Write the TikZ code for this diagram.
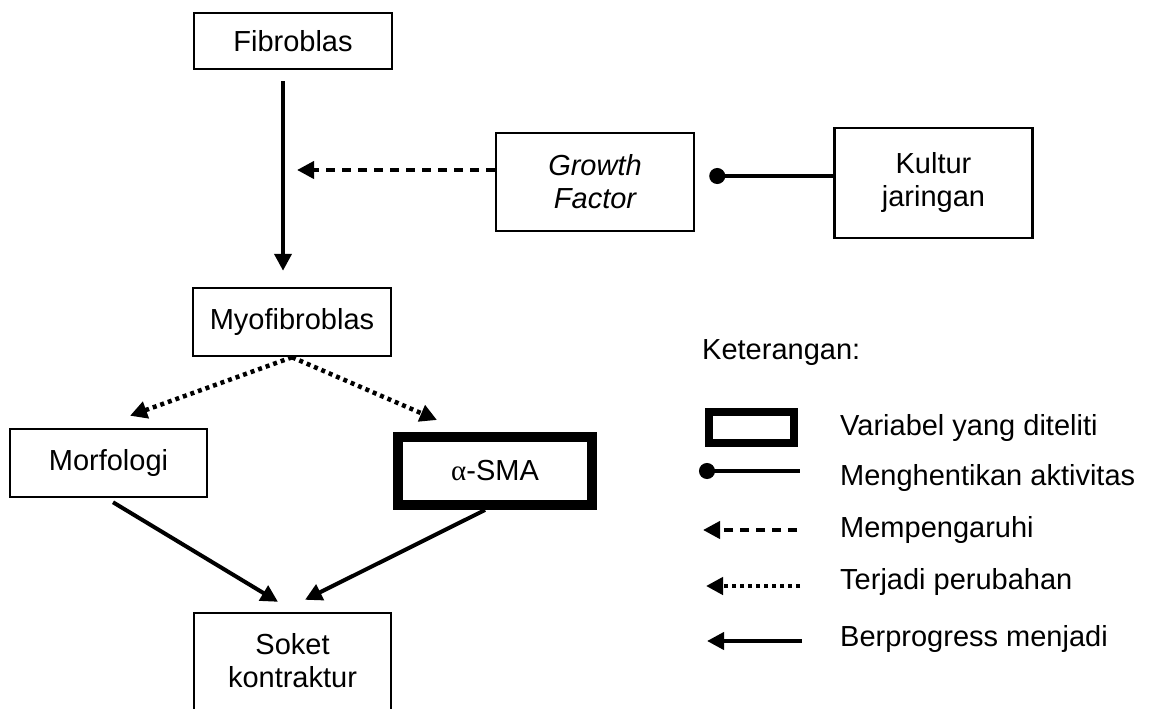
\documentclass[tikz,border=0pt]{standalone}
\usepackage{fontspec}
\setmainfont{Liberation Sans}
\newfontfamily\greekserif{Liberation Serif}
\usetikzlibrary{arrows.meta}
\begin{document}
\begin{tikzpicture}[x=1pt,y=-1pt,
  font=\fontsize{29pt}{33pt}\selectfont,
  box/.style={draw, line width=2.5pt, minimum width=198pt, align=center, inner sep=0pt},
  thickbox/.style={draw, line width=10pt, inner sep=0pt},
  tip/.style={-{Triangle[length=17pt,width=17pt]}},
  solidarrow/.style={line width=4pt, tip},
  dashedarrow/.style={line width=4pt, dash pattern=on 9pt off 7pt, tip},
  dottedarrow/.style={line width=4.5pt, dash pattern=on 4pt off 4pt, tip},
  blocker/.style={line width=4.5pt, {Circle[length=16pt]}-},
  legtext/.style={anchor=west, inner sep=0pt}
]
\useasboundingbox (0,0) rectangle (1154,709);

% main nodes
\node[box, minimum height=56pt] (fib) at (293,41) {Fibroblas};
\node[box, minimum height=68pt] (myo) at (292,322) {Myofibroblas};
\node[box, minimum height=98pt] (gf) at (595,182) {\itshape Growth\\\itshape Factor};
\node[box, minimum height=110pt] (kj) at (933.5,183) {Kultur\\jaringan};
\node[box, minimum height=68pt, minimum width=197pt] (morf) at (108.5,463) {Morfologi};
\node[thickbox, minimum width=194pt, minimum height=68pt] (sma) at (495,471) {{\greekserif α}-SMA};
\node[align=center, inner sep=0pt, minimum width=197pt, minimum height=96pt] (sok) at (292.5,661) {Soket\\kontraktur};
\draw[line width=2.5pt] ([yshift=-30pt]sok.south west) -- (sok.north west) -- (sok.north east) -- ([yshift=-30pt]sok.south east);

% connectors
\draw[solidarrow, shorten <=11pt, shorten >=16pt] ([xshift=-10pt]fib.south) -- ([xshift=-9pt]myo.north);
\coordinate (gftip) at (297,170);
\draw[dashedarrow] ([yshift=12pt]gf.west) -- (gftip);
\draw[blocker, shorten <=14pt] ([yshift=7pt]kj.west -| gf.east) -- ([yshift=7pt]kj.west);
\draw[dottedarrow] (myo.south) -- ([xshift=21.5pt,yshift=12pt]morf.north);
\draw[dottedarrow] (myo.south) -- ([xshift=-58pt,yshift=12pt]sma.north);
\draw[solidarrow] ([xshift=4.5pt,yshift=-4pt]morf.south) -- ([xshift=-14.5pt,yshift=11pt]sok.north);
\draw[solidarrow] ([xshift=-10pt]sma.south) -- ([xshift=12.5pt,yshift=13pt]sok.north);

% legend
\node[legtext] (ket) at (702,353) {Keterangan:};
\node[draw, line width=8pt, inner sep=0pt, minimum width=85pt, minimum height=31pt] (legbox) at (751.5,427.5) {};
\node[legtext] (t1) at (840,428) {Variabel yang diteliti};
\node[legtext] (t2) at (840,478) {Menghentikan aktivitas};
\node[legtext] (t3) at (840,530) {Mempengaruhi};
\node[legtext] (t4) at (840,582) {Terjadi perubahan};
\node[legtext] (t5) at (840,639) {Berprogress menjadi};

\coordinate (l2a) at (800,471); \coordinate (l2b) at (699,471);
\coordinate (l3a) at (797,530); \coordinate (l3b) at (703,530);
\coordinate (l4a) at (800,586); \coordinate (l4b) at (706,586);
\coordinate (l5a) at (802,641); \coordinate (l5b) at (707,641);
\draw[blocker] (l2b) -- (l2a);
\draw[dashedarrow] (l3a) -- (l3b);
\draw[dottedarrow] (l4a) -- (l4b);
\draw[solidarrow] (l5a) -- (l5b);
\end{tikzpicture}
\end{document}
